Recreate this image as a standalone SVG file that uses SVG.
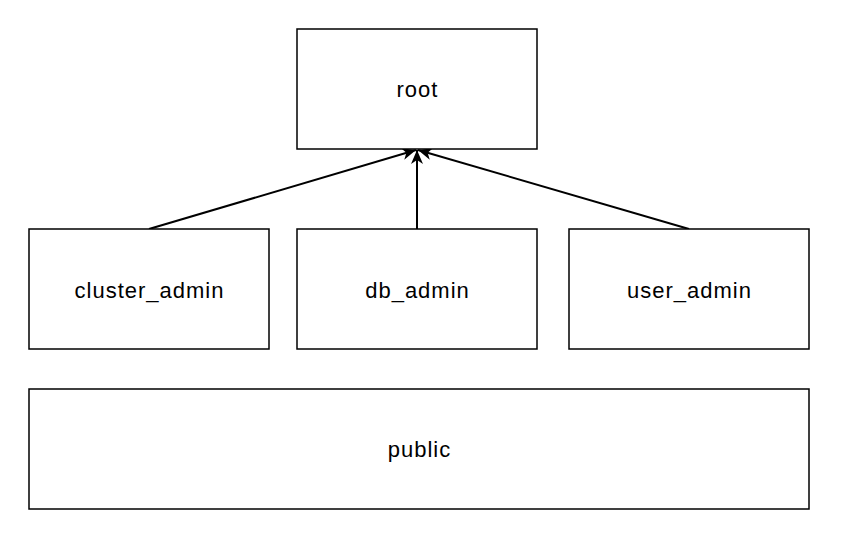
<svg xmlns="http://www.w3.org/2000/svg" width="856" height="548" viewBox="0 0 856 548">
<defs>
<style>
.box{fill:#ffffff;stroke:#000000;stroke-width:1.5}
.lbl{font-family:"Liberation Sans",Arial,Helvetica,sans-serif;font-size:22px;letter-spacing:1px;fill:#000000;text-anchor:middle;dominant-baseline:central}
.edge{fill:none;stroke:#000000;stroke-width:2}
</style>
<marker id="arr" viewBox="0 0 14 12" refX="14" refY="6" markerWidth="14" markerHeight="12" orient="auto" markerUnits="userSpaceOnUse">
<path d="M0,0 L14,6 L0,12 L4,6 Z" fill="#000000"/>
</marker>
</defs>
<rect width="856" height="548" fill="#ffffff"/>
<g id="connectors">
<line class="edge" x1="149" y1="229" x2="416" y2="150" marker-end="url(#arr)"/>
<line class="edge" x1="417" y1="229" x2="417" y2="150" marker-end="url(#arr)"/>
<line class="edge" x1="689" y1="229" x2="418" y2="150" marker-end="url(#arr)"/>
</g>
<g id="root">
<rect class="box" x="297" y="29" width="240" height="120"/>
<text class="lbl" x="417.5" y="89">root</text>
</g>
<g id="cluster_admin">
<rect class="box" x="29" y="229" width="240" height="120"/>
<text class="lbl" x="149.5" y="290">cluster_admin</text>
</g>
<g id="db_admin">
<rect class="box" x="297" y="229" width="240" height="120"/>
<text class="lbl" x="417.5" y="290">db_admin</text>
</g>
<g id="user_admin">
<rect class="box" x="569" y="229" width="240" height="120"/>
<text class="lbl" x="689.5" y="290">user_admin</text>
</g>
<g id="public">
<rect class="box" x="29" y="389" width="780" height="120"/>
<text class="lbl" x="419.5" y="449">public</text>
</g>
</svg>
